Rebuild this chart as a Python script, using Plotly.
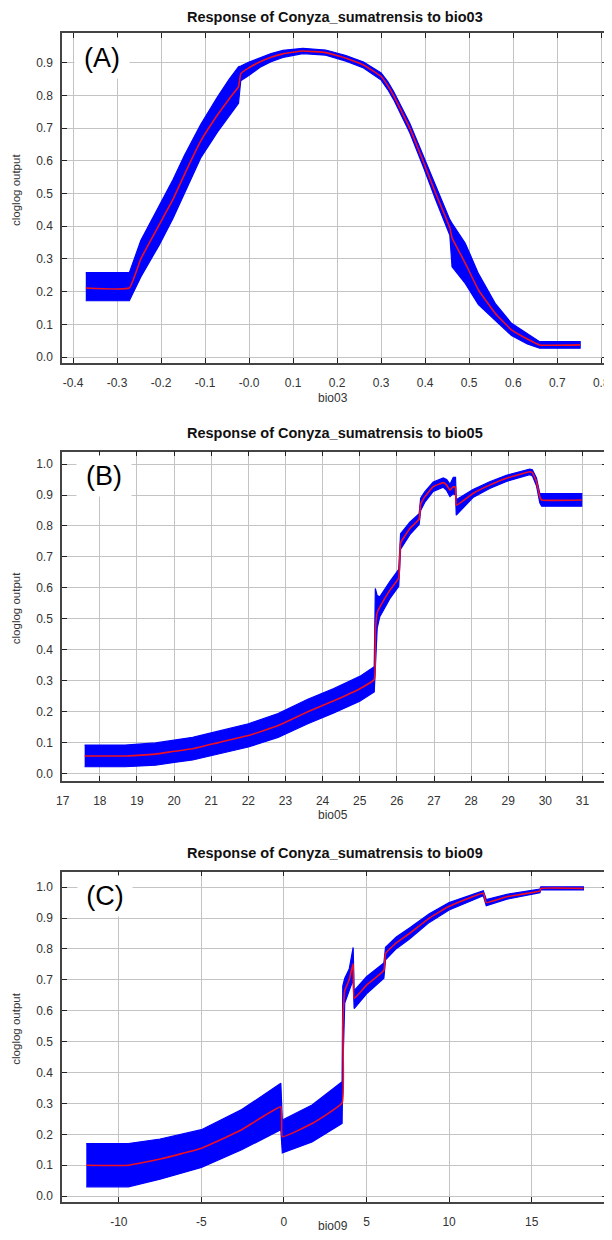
import plotly.graph_objects as go

# ---------------- data ----------------
bio03_x = [-0.371, -0.272, -0.246, -0.204, -0.173, -0.147, -0.110, -0.072, -0.045, -0.024, -0.019,
           0.000, 0.025, 0.050, 0.077, 0.122, 0.174, 0.220, 0.260, 0.300, 0.315, 0.328, 0.365,
           0.395, 0.424, 0.456, 0.461, 0.491, 0.521, 0.559, 0.596, 0.632, 0.660, 0.752]
bio03_mean = [0.211, 0.211, 0.300, 0.405, 0.482, 0.558, 0.660, 0.740, 0.790, 0.827, 0.866,
              0.885, 0.903, 0.917, 0.927, 0.936, 0.931, 0.914, 0.893, 0.858, 0.830, 0.800, 0.700,
              0.600, 0.500, 0.395, 0.365, 0.287, 0.205, 0.134, 0.083, 0.055, 0.037, 0.037]
bio03_lo = [0.172, 0.172, 0.245, 0.343, 0.424, 0.503, 0.609, 0.688, 0.738, 0.776, 0.845,
            0.862, 0.886, 0.903, 0.916, 0.928, 0.923, 0.905, 0.884, 0.847, 0.818, 0.788, 0.686,
            0.584, 0.480, 0.372, 0.276, 0.225, 0.160, 0.113, 0.066, 0.040, 0.027, 0.027]
bio03_hi = [0.258, 0.258, 0.356, 0.465, 0.542, 0.616, 0.711, 0.795, 0.850, 0.888, 0.890,
            0.902, 0.916, 0.928, 0.938, 0.944, 0.939, 0.922, 0.902, 0.869, 0.842, 0.813, 0.715,
            0.618, 0.522, 0.420, 0.409, 0.348, 0.255, 0.164, 0.103, 0.072, 0.047, 0.047]

bio05_x = [17.59, 18.68, 19.5, 20.0, 20.5, 21.19, 22.0, 22.8, 23.6, 24.3, 25.0, 25.39,
           25.42, 25.47, 25.54, 25.81, 26.05, 26.10, 26.35, 26.60, 26.64, 26.75, 26.98,
           27.25, 27.34, 27.43, 27.52, 27.58, 27.60, 28.05, 28.5, 28.95, 29.58, 29.65,
           29.76, 29.85, 29.90, 30.98]
bio05_mean = [0.057, 0.057, 0.063, 0.072, 0.080, 0.100, 0.123, 0.155, 0.200, 0.235, 0.274, 0.304,
              0.460, 0.520, 0.538, 0.592, 0.632, 0.745, 0.792, 0.822, 0.870, 0.894, 0.927,
              0.940, 0.932, 0.916, 0.927, 0.925, 0.867, 0.905, 0.932, 0.954, 0.975, 0.972,
              0.943, 0.894, 0.884, 0.884]
bio05_lo = [0.022, 0.022, 0.027, 0.036, 0.044, 0.063, 0.086, 0.117, 0.161, 0.196, 0.234, 0.264,
            0.360, 0.470, 0.507, 0.565, 0.605, 0.725, 0.772, 0.805, 0.850, 0.876, 0.912,
            0.925, 0.915, 0.895, 0.905, 0.900, 0.835, 0.892, 0.921, 0.944, 0.966, 0.962,
            0.930, 0.875, 0.864, 0.864]
bio05_hi = [0.092, 0.092, 0.099, 0.108, 0.117, 0.137, 0.161, 0.194, 0.240, 0.275, 0.314, 0.345,
            0.598, 0.575, 0.571, 0.620, 0.660, 0.775, 0.812, 0.840, 0.890, 0.910, 0.942,
            0.955, 0.950, 0.935, 0.957, 0.957, 0.885, 0.918, 0.943, 0.964, 0.984, 0.982,
            0.955, 0.905, 0.905, 0.905]

bio09_x = [-11.97, -9.42, -7.5, -5.0, -2.56, -0.19, -0.10, 1.7, 3.52, 3.56, 3.68, 3.95,
           4.19, 4.25, 5.0, 6.05, 6.15, 6.8, 7.6, 8.8, 10.0, 12.07, 12.25, 13.5, 15.5,
           15.55, 18.13]
bio09_mean = [0.100, 0.100, 0.120, 0.155, 0.215, 0.289, 0.192, 0.235, 0.302, 0.550, 0.665, 0.700,
              0.753, 0.640, 0.683, 0.731, 0.785, 0.820, 0.850, 0.900, 0.938, 0.980, 0.950,
              0.969, 0.988, 0.996, 0.996]
bio09_lo = [0.030, 0.030, 0.055, 0.093, 0.150, 0.215, 0.140, 0.175, 0.235, 0.400, 0.625, 0.665,
            0.700, 0.607, 0.655, 0.705, 0.765, 0.801, 0.832, 0.886, 0.926, 0.972, 0.940,
            0.961, 0.982, 0.991, 0.991]
bio09_hi = [0.170, 0.170, 0.185, 0.215, 0.280, 0.365, 0.246, 0.295, 0.370, 0.680, 0.705, 0.735,
            0.805, 0.665, 0.710, 0.755, 0.805, 0.839, 0.868, 0.914, 0.950, 0.988, 0.960,
            0.977, 0.994, 1.001, 1.001]

titles = ["Response of Conyza_sumatrensis to bio03",
          "Response of Conyza_sumatrensis to bio05",
          "Response of Conyza_sumatrensis to bio09"]
x_titles = ["bio03", "bio05", "bio09"]
panel_labels = ["(A)", "(B)", "(C)"]
y_title = "cloglog output"

a_xticks = [-0.4, -0.3, -0.2, -0.1, 0.0, 0.1, 0.2, 0.3, 0.4, 0.5, 0.6, 0.7, 0.8]
a_xtext = ["-0.4", "-0.3", "-0.2", "-0.1", "-0.0", "0.1", "0.2", "0.3", "0.4", "0.5", "0.6", "0.7", "0.8"]
a_yticks = [0.0, 0.1, 0.2, 0.3, 0.4, 0.5, 0.6, 0.7, 0.8, 0.9]
b_xticks = list(range(17, 32))
b_yticks = [0.0, 0.1, 0.2, 0.3, 0.4, 0.5, 0.6, 0.7, 0.8, 0.9, 1.0]
c_xticks = [-10, -5, 0, 5, 10, 15]
c_yticks = [0.0, 0.1, 0.2, 0.3, 0.4, 0.5, 0.6, 0.7, 0.8, 0.9, 1.0]

# ---------------- layout geometry (page pixels) ----------------
OFF = 8                           # default page margin of the html body
W, H = 612 - OFF, 1240 - 2 * OFF  # figure size so the page does not scroll
LEFT, RIGHT = 62, 607
panels = [  # top, bottom in page px, x range, y range, title centre
    dict(top=33.3, bottom=362.7, xr=[-0.425, 0.813], yr=[-0.0174, 0.990], ty=17.5),
    dict(top=451.7, bottom=780.7, xr=[16.98, 31.66], yr=[-0.023, 1.040], ty=433.4),
    dict(top=871.7, bottom=1201.7, xr=[-13.44, 19.56], yr=[-0.018, 1.050], ty=853.4),
]
data = [(bio03_x, bio03_mean, bio03_lo, bio03_hi),
        (bio05_x, bio05_mean, bio05_lo, bio05_hi),
        (bio09_x, bio09_mean, bio09_lo, bio09_hi)]
xticks = [(a_xticks, a_xtext), (b_xticks, [str(v) for v in b_xticks]),
          (c_xticks, [str(v) for v in c_xticks])]
yticks = [a_yticks, b_yticks, c_yticks]
label_centers = [(102, 58), (103.5, 476), (104.5, 896)]
xtitle_offsets = [35, 34, 24.5]

FONT = "Liberation Sans, Arial, sans-serif"
fig = go.Figure()

def py(p):
    return 1 - (p - OFF) / H

def px(p):
    return (p - OFF) / W

for i, (xs, m, lo, hi) in enumerate(data):
    n = "" if i == 0 else str(i + 1)
    xa, ya = "x" + n, "y" + n
    fig.add_trace(go.Scatter(
        x=list(xs) + list(xs)[::-1], y=list(hi) + list(lo)[::-1],
        fill="toself", fillcolor="#0000ff", mode="lines",
        line=dict(color="#0000ff", width=1.2), xaxis=xa, yaxis=ya,
        hoverinfo="skip", showlegend=False))
    fig.add_trace(go.Scatter(
        x=xs, y=m, mode="lines", line=dict(color="#f01020", width=1.6, shape="spline", smoothing=0.3),
        xaxis=xa, yaxis=ya, showlegend=False))

    p = panels[i]
    axis_common = dict(showgrid=True, gridcolor="#c4c4c4", gridwidth=1, automargin=False,
                       zeroline=False, showline=True, linecolor="#444444", linewidth=1.5,
                       mirror="ticks", ticks="inside", ticklen=5, tickwidth=1.2,
                       tickcolor="#222222", ticklabeloverflow="allow",
                       tickfont=dict(family=FONT, size=12, color="#333333"))
    fig.update_layout(**{
        "xaxis" + n: dict(domain=[px(LEFT), px(RIGHT)], range=p["xr"],
                          anchor=ya, tickmode="array", tickvals=xticks[i][0],
                          ticktext=xticks[i][1], ticklabelstandoff=8, **axis_common),
        "yaxis" + n: dict(domain=[py(p["bottom"]), py(p["top"])], range=p["yr"],
                          anchor=xa, tickmode="array", tickvals=yticks[i],
                          ticktext=["%.1f" % v for v in yticks[i]],
                          ticklabelstandoff=5, **axis_common),
    })
    # title
    fig.add_annotation(x=px((LEFT + RIGHT) / 2), y=py(p["ty"]), xref="paper", yref="paper",
                       text="<b>" + titles[i] + "</b>", showarrow=False, borderpad=0,
                       font=dict(family=FONT, size=14.5, color="#111111"),
                       xanchor="center", yanchor="middle")
    # x title
    fig.add_annotation(x=px(333), y=py(p["bottom"] + xtitle_offsets[i]), xref="paper", yref="paper",
                       text=x_titles[i], showarrow=False, borderpad=0,
                       font=dict(family=FONT, size=12, color="#333333"),
                       xanchor="center", yanchor="middle")
    # y title
    fig.add_annotation(x=px(16), y=py((p["top"] + p["bottom"]) / 2 - 8), xref="paper", yref="paper",
                       text=y_title, showarrow=False, textangle=-90, borderpad=0,
                       font=dict(family=FONT, size=11.5, color="#333333"),
                       xanchor="center", yanchor="middle")
    # panel label
    cx, cy = label_centers[i]
    fig.add_annotation(x=px(cx), y=py(cy), xref="paper", yref="paper",
                       text=panel_labels[i], showarrow=False,
                       font=dict(family=FONT, size=27, color="#000000"),
                       bgcolor="#ffffff", width=52, height=38,
                       xanchor="center", yanchor="middle")

fig.update_layout(width=W, height=H, margin=dict(l=0, r=0, t=0, b=0),
                  paper_bgcolor="#ffffff", plot_bgcolor="#ffffff", showlegend=False)
fig.write_html("out.html")
